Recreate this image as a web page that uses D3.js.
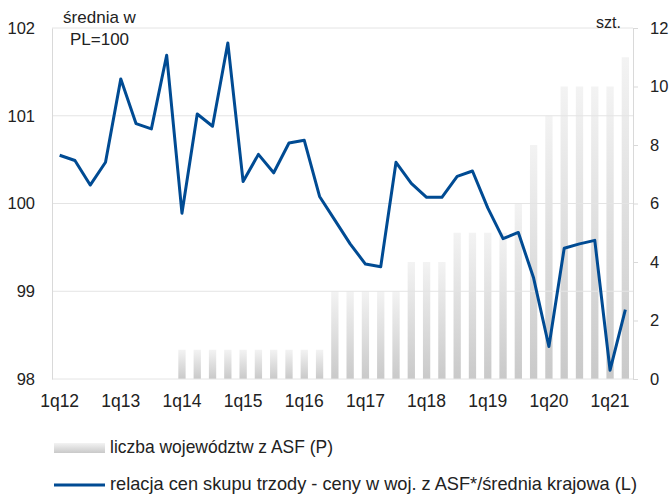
<!DOCTYPE html>
<html>
<head>
<meta charset="utf-8">
<script src="https://cdn.jsdelivr.net/npm/d3@7"></script>
<style>
  body { margin: 0; background: #fff; }
  svg { display: block; font-family: "Liberation Sans", Arial, sans-serif; }
</style>
</head>
<body>
<div id="chart"></div>
<script>
// quarters 1q12 .. 2q21
var quarters = ["1q12","2q12","3q12","4q12","1q13","2q13","3q13","4q13",
  "1q14","2q14","3q14","4q14","1q15","2q15","3q15","4q15",
  "1q16","2q16","3q16","4q16","1q17","2q17","3q17","4q17",
  "1q18","2q18","3q18","4q18","1q19","2q19","3q19","4q19",
  "1q20","2q20","3q20","4q20","1q21","2q21"];

// liczba województw z ASF (P)
var asfCount = [0,0,0,0,0,0,0,0,
  1,1,1,1,1,1,1,1,
  1,1,3,3,3,3,3,4,
  4,4,5,5,5,5,6,8,
  9,10,10,10,10,11];

// relacja cen skupu trzody (L)
var priceRatio = [100.55,100.49,100.21,100.47,101.42,100.91,100.85,101.69,
  99.89,101.02,100.88,101.83,100.25,100.56,100.35,100.69,
  100.72,100.08,99.81,99.54,99.31,99.28,100.47,100.23,
  100.07,100.07,100.31,100.37,99.95,99.60,99.67,99.15,
  98.37,99.49,99.54,99.58,98.10,98.79];

var xTickLabels = ["1q12","1q13","1q14","1q15","1q16","1q17","1q18","1q19","1q20","1q21"];
var leftTicks = [98, 99, 100, 101, 102];
var rightTicks = [0, 2, 4, 6, 8, 10, 12];

var margin = {top: 28, right: 38, bottom: 116, left: 52},
    width = 671 - margin.left - margin.right,
    height = 495 - margin.top - margin.bottom;

var svg = d3.select("#chart").append("svg")
    .attr("width", 671)
    .attr("height", 495);

var defs = svg.append("defs");
var grad = defs.append("linearGradient")
    .attr("id", "barGrad")
    .attr("x1", 0).attr("y1", 0).attr("x2", 0).attr("y2", 1);
grad.append("stop").attr("offset", "0%").attr("stop-color", "#f3f3f3");
grad.append("stop").attr("offset", "100%").attr("stop-color", "#c9c9c9");

var g = svg.append("g")
    .attr("transform", "translate(" + margin.left + "," + margin.top + ")");

var x = d3.scaleBand().domain(quarters).range([0, width]).padding(0);
var yL = d3.scaleLinear().domain([98, 102]).range([height, 0]);
var yR = d3.scaleLinear().domain([0, 12]).range([height, 0]);

var barW = 7.3;

// bars
g.selectAll(".bar")
  .data(quarters.map(function(q, i) { return {q: q, v: asfCount[i]}; }).filter(function(d) { return d.v > 0; }))
  .enter().append("rect")
    .attr("class", "bar")
    .attr("x", function(d) { return x(d.q) + x.bandwidth() / 2 - barW / 2; })
    .attr("y", function(d) { return yR(d.v); })
    .attr("width", barW)
    .attr("height", function(d) { return height - yR(d.v); })
    .style("fill", "url(#barGrad)");

// gridlines (left axis)
g.append("g")
  .selectAll("line")
  .data(leftTicks)
  .enter().append("line")
    .attr("x1", 0).attr("x2", width)
    .attr("y1", function(d) { return yL(d); })
    .attr("y2", function(d) { return yL(d); })
    .attr("stroke", "#e4e4e4")
    .attr("stroke-width", 1);

// left axis
var leftAxis = g.append("g")
  .call(d3.axisLeft(yL).tickValues(leftTicks).tickFormat(d3.format("d")).tickSize(0).tickPadding(17));
leftAxis.select(".domain").attr("stroke", "#d9d9d9");
leftAxis.selectAll("text").attr("font-size", 16.5).attr("fill", "#222")
  .attr("font-family", "Liberation Sans, Arial, sans-serif");

// right axis
var rightAxis = g.append("g")
  .attr("transform", "translate(" + width + ",0)")
  .call(d3.axisRight(yR).tickValues(rightTicks).tickSize(5).tickPadding(12));
rightAxis.select(".domain").attr("stroke", "#d9d9d9");
rightAxis.selectAll(".tick line").attr("stroke", "#d9d9d9");
rightAxis.selectAll("text").attr("font-size", 16.5).attr("fill", "#222")
  .attr("font-family", "Liberation Sans, Arial, sans-serif");

// x axis
var xAxis = g.append("g")
  .attr("transform", "translate(0," + height + ")")
  .call(d3.axisBottom(x).tickValues(xTickLabels).tickSize(0).tickPadding(16));
xAxis.select(".domain").remove();
xAxis.selectAll("text").attr("font-size", 17.5).attr("fill", "#222")
  .attr("font-family", "Liberation Sans, Arial, sans-serif");

// line
var line = d3.line()
  .x(function(d, i) { return x(quarters[i]) + x.bandwidth() / 2; })
  .y(function(d) { return yL(d); });

g.append("path")
  .datum(priceRatio)
  .attr("fill", "none")
  .attr("stroke", "#004b93")
  .attr("stroke-width", 3)
  .attr("stroke-linejoin", "round")
  .attr("d", line);

// axis titles
svg.append("text")
  .attr("x", 99.5).attr("y", 22.5)
  .attr("text-anchor", "middle")
  .attr("font-size", 17).attr("fill", "#222")
  .text("średnia w");
svg.append("text")
  .attr("x", 99.5).attr("y", 45)
  .attr("text-anchor", "middle")
  .attr("font-size", 17).attr("fill", "#222")
  .text("PL=100");
svg.append("text")
  .attr("x", 621).attr("y", 28)
  .attr("text-anchor", "end")
  .attr("font-size", 16).attr("fill", "#222")
  .text("szt.");

// legend
var legend = svg.append("g")
  .attr("font-family", "Liberation Sans, Arial, sans-serif")
  .attr("font-size", 19)
  .attr("fill", "#222");

legend.append("rect")
  .attr("x", 54).attr("y", 443)
  .attr("width", 51).attr("height", 10)
  .style("fill", "url(#barGrad)");
legend.append("text")
  .attr("x", 110).attr("y", 453)
  .attr("textLength", 223)
  .attr("lengthAdjust", "spacingAndGlyphs")
  .text("liczba województw z ASF (P)");

legend.append("line")
  .attr("x1", 54).attr("x2", 105)
  .attr("y1", 485).attr("y2", 485)
  .attr("stroke", "#004b93")
  .attr("stroke-width", 3);
legend.append("text")
  .attr("x", 110).attr("y", 490)
  .attr("textLength", 527)
  .attr("lengthAdjust", "spacingAndGlyphs")
  .text("relacja cen skupu trzody - ceny w woj. z ASF*/średnia krajowa (L)");
</script>
</body>
</html>
